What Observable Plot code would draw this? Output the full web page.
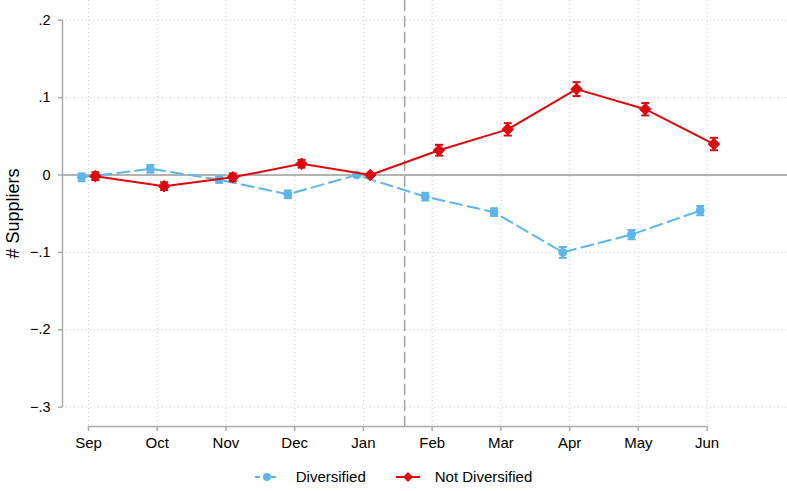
<!DOCTYPE html>
<html>
<head>
<meta charset="utf-8">
<script src="https://cdn.jsdelivr.net/npm/d3@7"></script>
<script src="https://cdn.jsdelivr.net/npm/@observablehq/plot@0.6"></script>
<style>
  html, body { margin: 0; padding: 0; background: #fff; }
  body { width: 787px; height: 491px; overflow: hidden; font-family: "Liberation Sans", Arial, sans-serif; }
  #legend { display: flex; justify-content: center; align-items: center; height: 29px; font-size: 15px; color: #000; }
  #legend .item { display: flex; align-items: center; }
  #legend svg { display: block; }
</style>
</head>
<body>
<div id="chart"></div>
<div id="legend"></div>
<script>
// ---- data ----
const months = ["Sep", "Oct", "Nov", "Dec", "Jan", "Feb", "Mar", "Apr", "May", "Jun"];
const diversified = [-0.003, 0.008, -0.006, -0.025, 0.000, -0.028, -0.048, -0.100, -0.077, -0.046];
const diversifiedErr = [0.005, 0.005, 0.004, 0.005, 0.000, 0.005, 0.005, 0.007, 0.006, 0.006];
const notDiversified = [-0.0015, -0.0145, -0.003, 0.0145, 0.000, 0.032, 0.059, 0.111, 0.085, 0.040];
const notDiversifiedErr = [0.005, 0.005, 0.005, 0.005, 0.000, 0.007, 0.008, 0.009, 0.008, 0.008];
const yTicks = [0.2, 0.1, 0, -0.1, -0.2, -0.3];
const seriesNames = ["Diversified", "Not Diversified"];
const eventPosition = 4.6; // between Jan and Feb

// ---- styling ----
const BLUE = "#5DB6E8";
const RED = "#DC0A0F";
const GRID = "#cfcfcf";
const AXIS = "#ababab";
const xDomain = [-0.378, 10.17];
const yDomain = [-0.325, 0.2255];
const offset = 0.1;

const rows = (vals, errs, series, dx) => vals.map((v, i) => ({
  series, month: months[i], x: i + dx, v, lo: v - errs[i], hi: v + errs[i], e: errs[i]
}));
const divRows = rows(diversified, diversifiedErr, seriesNames[0], -offset);
const notRows = rows(notDiversified, notDiversifiedErr, seriesNames[1], offset);

const capSymbol = {
  draw(ctx, size) { const w = 4; ctx.moveTo(-w, 0); ctx.lineTo(w, 0); }
};

const fmt = d => d === 0 ? "0" : (d < 0 ? "\u2212" : "") + String(Math.abs(+d.toFixed(2))).replace(/^0/, "");

const errMarks = (data, color) => [
  Plot.ruleX(data.filter(d => d.e > 0), {x: "x", y1: "lo", y2: "hi", stroke: color, strokeWidth: 2}),
  Plot.dot(data.filter(d => d.e > 0), {x: "x", y: "lo", symbol: capSymbol, stroke: color, strokeWidth: 2, fill: "none"}),
  Plot.dot(data.filter(d => d.e > 0), {x: "x", y: "hi", symbol: capSymbol, stroke: color, strokeWidth: 2, fill: "none"})
];

const plot = Plot.plot({
  width: 787,
  height: 462,
  marginLeft: 62,
  marginRight: 0,
  marginTop: 0,
  marginBottom: 36,
  style: {fontFamily: "'Liberation Sans', Arial, sans-serif", fontSize: "15px", color: "#000", background: "#fff"},
  x: {type: "linear", domain: xDomain},
  y: {type: "linear", domain: yDomain},
  marks: [
    // gridlines
    Plot.ruleY(yTicks.filter(d => d !== 0), {stroke: GRID, strokeWidth: 1, strokeDasharray: "1,3"}),
    Plot.ruleX(d3.range(months.length), {stroke: GRID, strokeWidth: 1, strokeDasharray: "1,3"}),
    // zero line
    Plot.ruleY([0], {stroke: "#9a9a9a", strokeWidth: 1.5}),
    // event line
    Plot.ruleX([eventPosition], {stroke: "#a0a0a0", strokeWidth: 1.5, strokeDasharray: "11,5"}),
    // axes
    Plot.ruleX([xDomain[0]], {y1: yTicks[yTicks.length - 1], y2: yTicks[0], stroke: AXIS, strokeWidth: 1.5}),
    Plot.ruleY([yDomain[0]], {x1: 0, x2: months.length - 1, stroke: AXIS, strokeWidth: 1.5}),
    Plot.axisY({ticks: yTicks, tickFormat: fmt, tickSize: 4, tickPadding: 8, stroke: AXIS, strokeWidth: 1.5, fill: "#000", fontSize: 14.5, label: null}),
    Plot.axisX({ticks: d3.range(months.length), tickFormat: i => months[i], tickSize: 5, tickPadding: 6, stroke: AXIS, strokeWidth: 1.5, fill: "#000", fontSize: 15, label: null}),
    Plot.text(["# Suppliers"], {frameAnchor: "left", dx: -49, rotate: -90, fontSize: 18, textAnchor: "middle", fill: "#000"}),
    // Diversified
    Plot.line(divRows, {x: "x", y: "v", stroke: BLUE, strokeWidth: 2, strokeDasharray: "12,6"}),
    ...errMarks(divRows, BLUE),
    Plot.dot(divRows, {x: "x", y: "v", r: 4, fill: BLUE, stroke: BLUE, strokeWidth: 1}),
    // Not diversified
    Plot.line(notRows, {x: "x", y: "v", stroke: RED, strokeWidth: 2}),
    ...errMarks(notRows, RED),
    Plot.dot(notRows, {x: "x", y: "v", symbol: "diamond2", r: 5.2, fill: RED, stroke: RED, strokeWidth: 1})
  ]
});
document.getElementById("chart").appendChild(plot);

// ---- legend ----
const legend = document.getElementById("legend");
const items = [
  {name: seriesNames[0], color: BLUE, dash: "5,3", marker: "circle"},
  {name: seriesNames[1], color: RED, dash: null, marker: "diamond"}
];
items.forEach((it, k) => {
  const div = document.createElement("div");
  div.className = "item";
  div.style.marginLeft = k === 0 ? "0px" : "30px";
  const ns = "http://www.w3.org/2000/svg";
  const svg = document.createElementNS(ns, "svg");
  svg.setAttribute("width", 24); svg.setAttribute("height", 12);
  const line = document.createElementNS(ns, "line");
  line.setAttribute("x1", 0); line.setAttribute("x2", 24); line.setAttribute("y1", 6); line.setAttribute("y2", 6);
  line.setAttribute("stroke", it.color); line.setAttribute("stroke-width", 2);
  if (it.dash) line.setAttribute("stroke-dasharray", it.dash);
  svg.appendChild(line);
  if (it.marker === "circle") {
    const c = document.createElementNS(ns, "circle");
    c.setAttribute("cx", 12); c.setAttribute("cy", 6); c.setAttribute("r", 4); c.setAttribute("fill", it.color);
    svg.appendChild(c);
  } else {
    const p = document.createElementNS(ns, "path");
    p.setAttribute("d", "M12,1 L17,6 L12,11 L7,6 Z"); p.setAttribute("fill", it.color);
    svg.appendChild(p);
  }
  div.appendChild(svg);
  const span = document.createElement("span");
  span.textContent = it.name;
  span.style.marginLeft = k === 0 ? "17px" : "15px";
  div.appendChild(span);
  legend.appendChild(div);
});
</script>
</body>
</html>
